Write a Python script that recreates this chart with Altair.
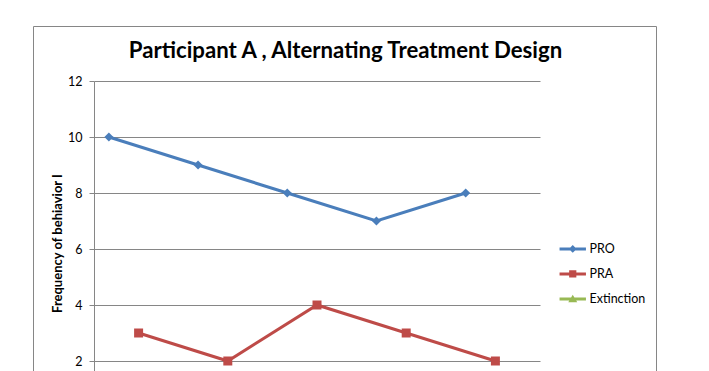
import altair as alt
import pandas as pd

# ---- data ----
series_names = ["PRO", "PRA", "Extinction"]
series_colors = ["#4A7EBB", "#BE4B48", "#98B954"]
pro_sessions = [1, 4, 7, 10, 13]
pro_values = [10, 9, 8, 7, 8]
pra_sessions = [2, 5, 8, 11, 14]
pra_values = [3, 2, 4, 3, 2]
y_ticks = [2, 4, 6, 8, 10, 12]
chart_title = "Participant A , Alternating Treatment Design"
y_title = "Frequency of behiavior I"

rows = []
for s, v in zip(pro_sessions, pro_values):
    rows.append({"series": "PRO", "session": s, "value": v})
for s, v in zip(pra_sessions, pra_values):
    rows.append({"series": "PRA", "session": s, "value": v})
df = pd.DataFrame(rows)

FONT = "Lato"
GRID = "#868686"
W, H = 446, 290

# legend symbols: line with marker (custom SVG paths, unit = sqrt(size)/2)
legend_paths = [
    "M-2.2,-0.25H2.2V0.25H-2.2Z M0,-0.65L0.65,0L0,0.65L-0.65,0Z",
    "M-2.2,-0.25H2.2V0.25H-2.2Z M-0.6,-0.6H0.6V0.6H-0.6Z",
    "M-2.2,-0.25H2.2V0.25H-2.2Z M0,-0.7L0.75,0.55L-0.75,0.55Z",
]

x_enc = alt.X("session:Q", scale=alt.Scale(domain=[0.5, 15.5], nice=False, zero=False), axis=None)
y_enc = alt.Y(
    "value:Q",
    scale=alt.Scale(domain=[12 - H / 28.0, 12], nice=False, zero=False),
    axis=alt.Axis(
        values=y_ticks, title=y_title, grid=True, gridColor=GRID, gridWidth=1,
        domainColor=GRID, tickColor=GRID, tickSize=5, labelPadding=7, labelFlush=False,
        labelFont=FONT, labelFontSize=12.5, labelColor="#000000",
        titleFont=FONT, titleFontSize=13, titleFontWeight="bold", titleColor="#000000",
        titleAngle=-90, titleX=-37, titleY=162, titleAlign="center", titleBaseline="middle",
    ),
)

base = alt.Chart(df).encode(x=x_enc, y=y_enc)

lines = base.mark_line(strokeWidth=3).encode(
    color=alt.Color("series:N", scale=alt.Scale(domain=series_names, range=series_colors), legend=None),
    detail="series:N",
)

points = base.mark_point(filled=True, opacity=1, size=81).encode(
    color=alt.Color("series:N", scale=alt.Scale(domain=series_names, range=series_colors), legend=None),
    shape=alt.Shape("series:N", scale=alt.Scale(domain=series_names, range=["diamond", "square", "triangle-up"]), legend=None),
)

legend_props = dict(title=None, orient="none", legendX=472.5, legendY=161.7,
                    padding=0, rowPadding=12, labelOffset=10.5, symbolSize=144,
                    symbolStrokeWidth=0, labelFont=FONT, labelFontSize=12.5,
                    labelColor="#000000")

legend_layer = base.transform_filter("false").mark_point(filled=True, opacity=1).encode(
    color=alt.Color("series:N", scale=alt.Scale(domain=series_names, range=series_colors),
                    legend=alt.Legend(**legend_props)),
    shape=alt.Shape("series:N", scale=alt.Scale(domain=series_names, range=legend_paths),
                    legend=alt.Legend(**legend_props)),
)

frame = alt.Chart(pd.DataFrame({"k": [0]})).mark_rect(filled=False, color=GRID, strokeWidth=1).encode(
    x=alt.value(-60.5), x2=alt.value(562.5), y=alt.value(-54.5), y2=alt.value(400)
)

chart = alt.layer(frame, lines, points, legend_layer).resolve_scale(
    color="independent", shape="independent"
).properties(
    width=W, height=H,
    title=alt.Title(chart_title, font=FONT, fontSize=22.2, fontWeight="bold", color="#000000",
                    anchor="middle", frame="group", baseline="alphabetic", offset=0, dx=28.5, dy=54),
    autosize=alt.AutoSizeParams(type="none"),
    padding={"left": 86, "top": 73, "right": 150, "bottom": 0},
).configure_view(stroke="transparent")

chart.save("out.html", embed_options={"renderer": "svg", "actions": False})
